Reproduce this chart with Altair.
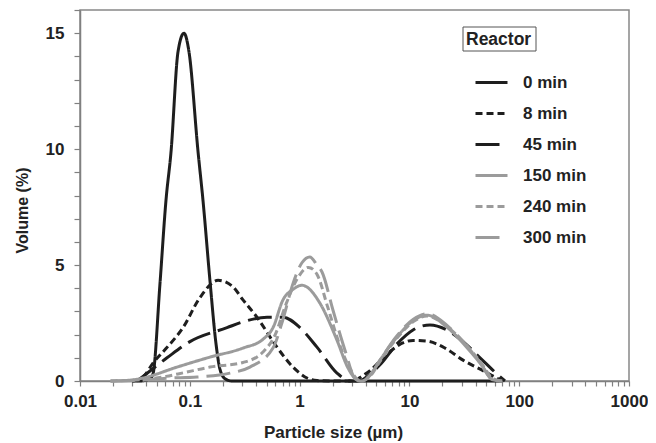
import pandas as pd
import altair as alt

# Particle size distributions in the reactor (size in um, volume in %)
series_names = ['0 min', '8 min', '45 min', '150 min', '240 min', '300 min']

sizes_0 = [0.03, 0.035, 0.0434, 0.0462, 0.0535, 0.0607, 0.0675, 0.0781, 0.0885, 0.0983, 0.1188,
           0.1318, 0.1528, 0.1733, 0.1884, 0.2092, 0.2423, 0.5, 1.0, 2.0, 5.0, 20.0, 70.0]
vol_0 = [0, 0, 0.1, 0.3, 4.2, 7.8, 9.9, 14.2, 15.0, 14.2, 9.9,
         7.8, 4.3, 1.6, 0.5, 0.1, 0, 0, 0, 0, 0, 0, 0]

sizes_8 = [0.03, 0.0375, 0.0462, 0.0607, 0.0867, 0.1238, 0.181, 0.2423, 0.305, 0.409, 0.622, 0.871,
           1.168, 1.44, 2.0, 3.2, 3.55, 4.38, 5.4, 7.71, 10.79, 14.46, 21.1, 30.8, 48.8, 69.7]
vol_8 = [0, 0.17, 0.77, 1.4, 2.3, 3.6, 4.34, 4.1, 3.5, 2.75, 1.46, 0.6,
         0.13, 0.02, 0, 0, 0.15, 0.45, 0.85, 1.5, 1.75, 1.72, 1.42, 0.9, 0.4, 0]

sizes_45 = [0.033, 0.0375, 0.062, 0.1004, 0.2183, 0.305, 0.505, 0.706, 1.008, 1.44, 2.19, 2.88,
            3.3, 3.7, 4.38, 5.4, 7.71, 10.79, 15.4, 22.0, 30.8, 44.0, 62.8, 74.2]
vol_45 = [0, 0.2, 1.0, 1.7, 2.3, 2.55, 2.75, 2.75, 2.3, 1.46, 0.34, 0,
          0, 0.05, 0.3, 0.7, 1.6, 2.2, 2.42, 2.2, 1.7, 1.0, 0.3, 0]

sizes_150 = [0.019, 0.0304, 0.0375, 0.0765, 0.1528, 0.305, 0.464, 0.5725, 0.706, 0.871, 1.052, 1.168,
             1.534, 2.19, 2.76, 3.33, 3.7, 4.38, 5.4, 7.71, 10.79, 14.46, 22.0, 30.8, 44.0, 57.7, 70.0]
vol_150 = [0, 0.05, 0.13, 0.6, 1.03, 1.42, 1.8, 2.3, 3.5, 3.95, 4.13, 4.05,
           3.35, 1.76, 0.56, 0.05, 0, 0.25, 0.9, 1.9, 2.6, 2.84, 2.32, 1.63, 0.77, 0.05, 0]

sizes_240 = [0.019, 0.035, 0.0607, 0.0867, 0.1528, 0.305, 0.464, 0.6, 0.75, 0.95, 1.2, 1.44,
             1.8, 2.3, 2.9, 3.4, 3.7, 4.38, 5.4, 7.71, 10.79, 14.46, 22.0, 30.8, 44.0, 57.7, 70.0]
vol_240 = [0, 0.05, 0.2, 0.35, 0.6, 0.8, 1.25, 2.0, 3.3, 4.4, 4.9, 4.6,
           3.2, 1.6, 0.5, 0.05, 0, 0.2, 0.85, 1.85, 2.55, 2.8, 2.35, 1.7, 0.85, 0.1, 0]

sizes_300 = [0.019, 0.035, 0.0607, 0.1163, 0.2323, 0.353, 0.5725, 0.7, 0.87, 1.05, 1.24, 1.44,
             1.6, 2.015, 2.59, 3.2, 3.6, 4.38, 5.4, 7.71, 10.79, 14.46, 22.0, 30.8, 44.0, 57.7, 70.0]
vol_300 = [0, 0.03, 0.12, 0.17, 0.34, 0.6, 1.42, 2.6, 4.2, 5.1, 5.35, 5.0,
           4.7, 3.05, 1.33, 0.1, 0, 0.25, 0.9, 1.95, 2.65, 2.9, 2.4, 1.7, 0.8, 0.05, 0]

x_ticks = [m * 10.0 ** e for e in range(-2, 3) for m in range(1, 10)] + [1000]
y_ticks = list(range(0, 17))

########################################################################################
############# Long table for the lines #################################################
########################################################################################

all_sizes = [sizes_0, sizes_8, sizes_45, sizes_150, sizes_240, sizes_300]
all_vols = [vol_0, vol_8, vol_45, vol_150, vol_240, vol_300]
frames = []
for name, xs, ys in zip(series_names, all_sizes, all_vols):
    frames.append(pd.DataFrame({'size': xs, 'volume': ys, 'series': name}))
df = pd.concat(frames, ignore_index=True)

black = '#1e1e1e'
gray = '#9b9b9b'
font = 'Liberation Sans'

solid = [1, 0]
short_dash = [7, 4]
long_dash = [24, 8]

lines = alt.Chart(df).mark_line(strokeWidth=3, interpolate='monotone').encode(
    x=alt.X('size:Q', title='Particle size (µm)',
            scale=alt.Scale(type='log', domain=[0.01, 1000]),
            axis=alt.Axis(values=x_ticks, tickSize=5, labelPadding=7,
                          titleX=253, titleY=43, titleFontSize=17,
                          labelOverlap=False, labelFlush=False,
                          labelExpr="abs(log(datum.value)/LN10 - round(log(datum.value)/LN10)) < 0.001 ? format(datum.value, '~g') : ''")),
    y=alt.Y('volume:Q', title='Volume (%)',
            scale=alt.Scale(domain=[0, 16], nice=False),
            axis=alt.Axis(values=y_ticks, tickSize=6, labelPadding=10, titlePadding=15,
                          labelOverlap=False, labelFlush=False, titleY=200, titleFontSize=16,
                          labelExpr="datum.value % 5 === 0 ? datum.label : ''")),
    color=alt.Color('series:N', sort=series_names, title=None,
                    scale=alt.Scale(domain=series_names, range=[black, black, black, gray, gray, gray]),
                    legend=alt.Legend(orient='none', legendX=394, legendY=55,
                                      symbolType='stroke', symbolSize=1024, symbolStrokeWidth=3,
                                      labelOffset=14, rowPadding=5, padding=0)),
    strokeDash=alt.StrokeDash('series:N', sort=series_names, title=None,
                              scale=alt.Scale(domain=series_names,
                                              range=[solid, short_dash, long_dash, solid, short_dash, long_dash])),
    order=alt.Order('size:Q')
)

# boxed legend heading
box = alt.Chart(pd.DataFrame({'label': ['Reactor']})).mark_rect(
    fill='white', stroke='#555555', strokeWidth=1
).encode(x=alt.value(383), x2=alt.value(456), y=alt.value(17), y2=alt.value(41))

heading = alt.Chart(pd.DataFrame({'label': ['Reactor']})).mark_text(
    align='left', baseline='middle', font=font, fontWeight='bold', fontSize=17.5, color='#222222'
).encode(text='label:N', x=alt.value(386), y=alt.value(29.5))

chart = alt.layer(lines, box, heading).properties(
    width=549, height=371,
    autosize=alt.AutoSizeParams(type='none'),
    padding={'left': 72, 'top': 2, 'right': 19, 'bottom': 62}
).configure_view(
    stroke='#888888', strokeWidth=1.5
).configure_axis(
    grid=False, domainColor='#808080', domainWidth=1.5, tickColor='#808080', tickWidth=1.2,
    labelFont=font, labelFontWeight='bold', labelFontSize=17, labelColor='#222222',
    titleFont=font, titleFontWeight='bold', titleColor='#222222'
).configure_legend(
    labelFont=font, labelFontWeight='bold', labelFontSize=17, labelColor='#222222'
)

chart.save('out.html', embed_options={'renderer': 'svg', 'actions': False})
